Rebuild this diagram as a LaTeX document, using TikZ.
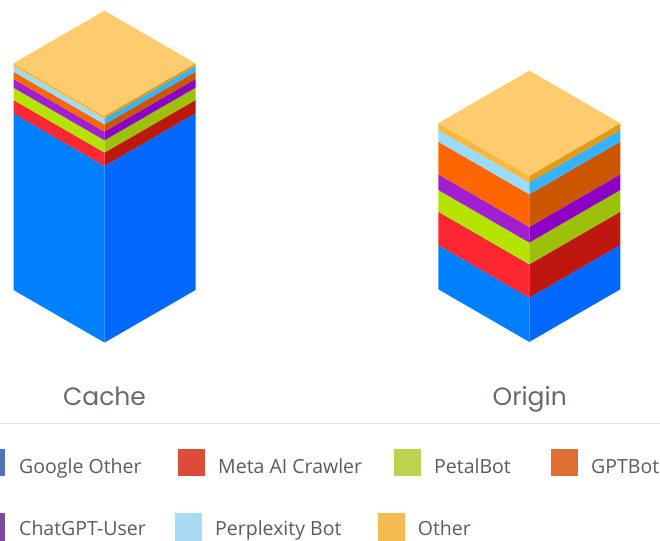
\documentclass[tikz,border=0pt]{standalone}
\usepackage{fontspec}
\setmainfont{Open Sans}
\newfontfamily\labfont{Poppins}
\definecolor{topc}{HTML}{FECB6F}
\definecolor{othL}{HTML}{FDB73C}
\definecolor{othR}{HTML}{E39C10}
\definecolor{perL}{HTML}{9ADCFF}
\definecolor{perR}{HTML}{36B2FF}
\definecolor{gptL}{HTML}{FF6600}
\definecolor{gptR}{HTML}{CC5500}
\definecolor{chaL}{HTML}{A11ED3}
\definecolor{chaR}{HTML}{8B00C4}
\definecolor{petL}{HTML}{B4E300}
\definecolor{petR}{HTML}{9DC10B}
\definecolor{metL}{HTML}{FF2832}
\definecolor{metR}{HTML}{BD1710}
\definecolor{gooL}{HTML}{0080FF}
\definecolor{gooR}{HTML}{0068FF}
\definecolor{lgGoo}{HTML}{4F72B8}
\definecolor{lgMet}{HTML}{DA4D3B}
\definecolor{lgPet}{HTML}{BCD34F}
\definecolor{lgGpt}{HTML}{E06F35}
\definecolor{lgCha}{HTML}{7E4999}
\definecolor{lgPer}{HTML}{A9DBF5}
\definecolor{lgOth}{HTML}{F4BC53}
\definecolor{txtc}{HTML}{5F5B58}
\definecolor{labc}{HTML}{6E6764}
\definecolor{rulec}{HTML}{E2E2E2}
% cx, ytop, ybottom (at side corners), left colour, right colour
\newcommand\isoLayer[5]{%
  \fill[#4] (#1-91,#2) -- (#1,#2+52.6) -- (#1,#3+52.6) -- (#1-91,#3) -- cycle;
  \fill[#5] (#1,#2+52.6) -- (#1+91,#2) -- (#1+91,#3) -- (#1,#3+52.6) -- cycle;
}
\newcommand\isoTop[2]{%
  \fill[topc] (#1,#2-52.6) -- (#1+91,#2) -- (#1,#2+52.6) -- (#1-91,#2) -- cycle;
}
\tikzset{
  lbl/.style={font=\labfont\fontsize{25}{30}\selectfont, text=labc, anchor=base, inner sep=0},
  legtxt/.style={font=\fontsize{19.5}{23}\selectfont, text=txtc, anchor=base west, inner sep=0},
}
\begin{document}
\begin{tikzpicture}[x=1pt,y=-1pt]
\clip (0,0) rectangle (660,540);
\fill[white] (0,0) rectangle (660,540);
% Cache column
\isoLayer{104.5}{113.3}{290}{gooL}{gooR}
\isoLayer{104.5}{100}{113.3}{metL}{metR}
\isoLayer{104.5}{87.7}{100}{petL}{petR}
\isoLayer{104.5}{79}{87.7}{chaL}{chaR}
\isoLayer{104.5}{71.7}{79}{gptL}{gptR}
\isoLayer{104.5}{66}{71.7}{perL}{perR}
\isoLayer{104.5}{63.3}{66}{othL}{othR}
\isoTop{104.5}{63.3}
% Origin column
\isoLayer{529.3}{245}{289.3}{gooL}{gooR}
\isoLayer{529.3}{211.7}{245}{metL}{metR}
\isoLayer{529.3}{190}{211.7}{petL}{petR}
\isoLayer{529.3}{174.3}{190}{chaL}{chaR}
\isoLayer{529.3}{141.7}{174.3}{gptL}{gptR}
\isoLayer{529.3}{130}{141.7}{perL}{perR}
\isoLayer{529.3}{123.3}{130}{othL}{othR}
\isoTop{529.3}{123.3}
% labels
\node[lbl] (cache) at (104.5,405) {Cache};
\node[lbl] (origin) at (529.7,405) {Origin};
% rule
\draw[rulec, line width=1.5pt] (0,423.7) -- (660,423.7);
% legend row 1
\fill[lgGoo] (-22,449) rectangle (5,476);
\node[legtxt] (lgoo) at (19,473.7) {Google Other};
\fill[lgMet] (178,449) rectangle (205,476);
\node[legtxt] (lmet) at (218,473.7) {Meta AI Crawler};
\fill[lgPet] (394,449) rectangle (421,476);
\node[legtxt] (lpet) at (434,473.7) {PetalBot};
\fill[lgGpt] (551,449) rectangle (578,476);
\node[legtxt] (lgpt) at (591,473.7) {GPTBot};
% legend row 2
\fill[lgCha] (-22,513) rectangle (5,541);
\node[legtxt] (lcha) at (19,535.2) {ChatGPT-User};
\fill[lgPer] (175,513) rectangle (202,541);
\node[legtxt] (lper) at (215,535.2) {Perplexity Bot};
\fill[lgOth] (378,513) rectangle (405,541);
\node[legtxt] (loth) at (417.7,535.2) {Other};
\end{tikzpicture}
\end{document}
